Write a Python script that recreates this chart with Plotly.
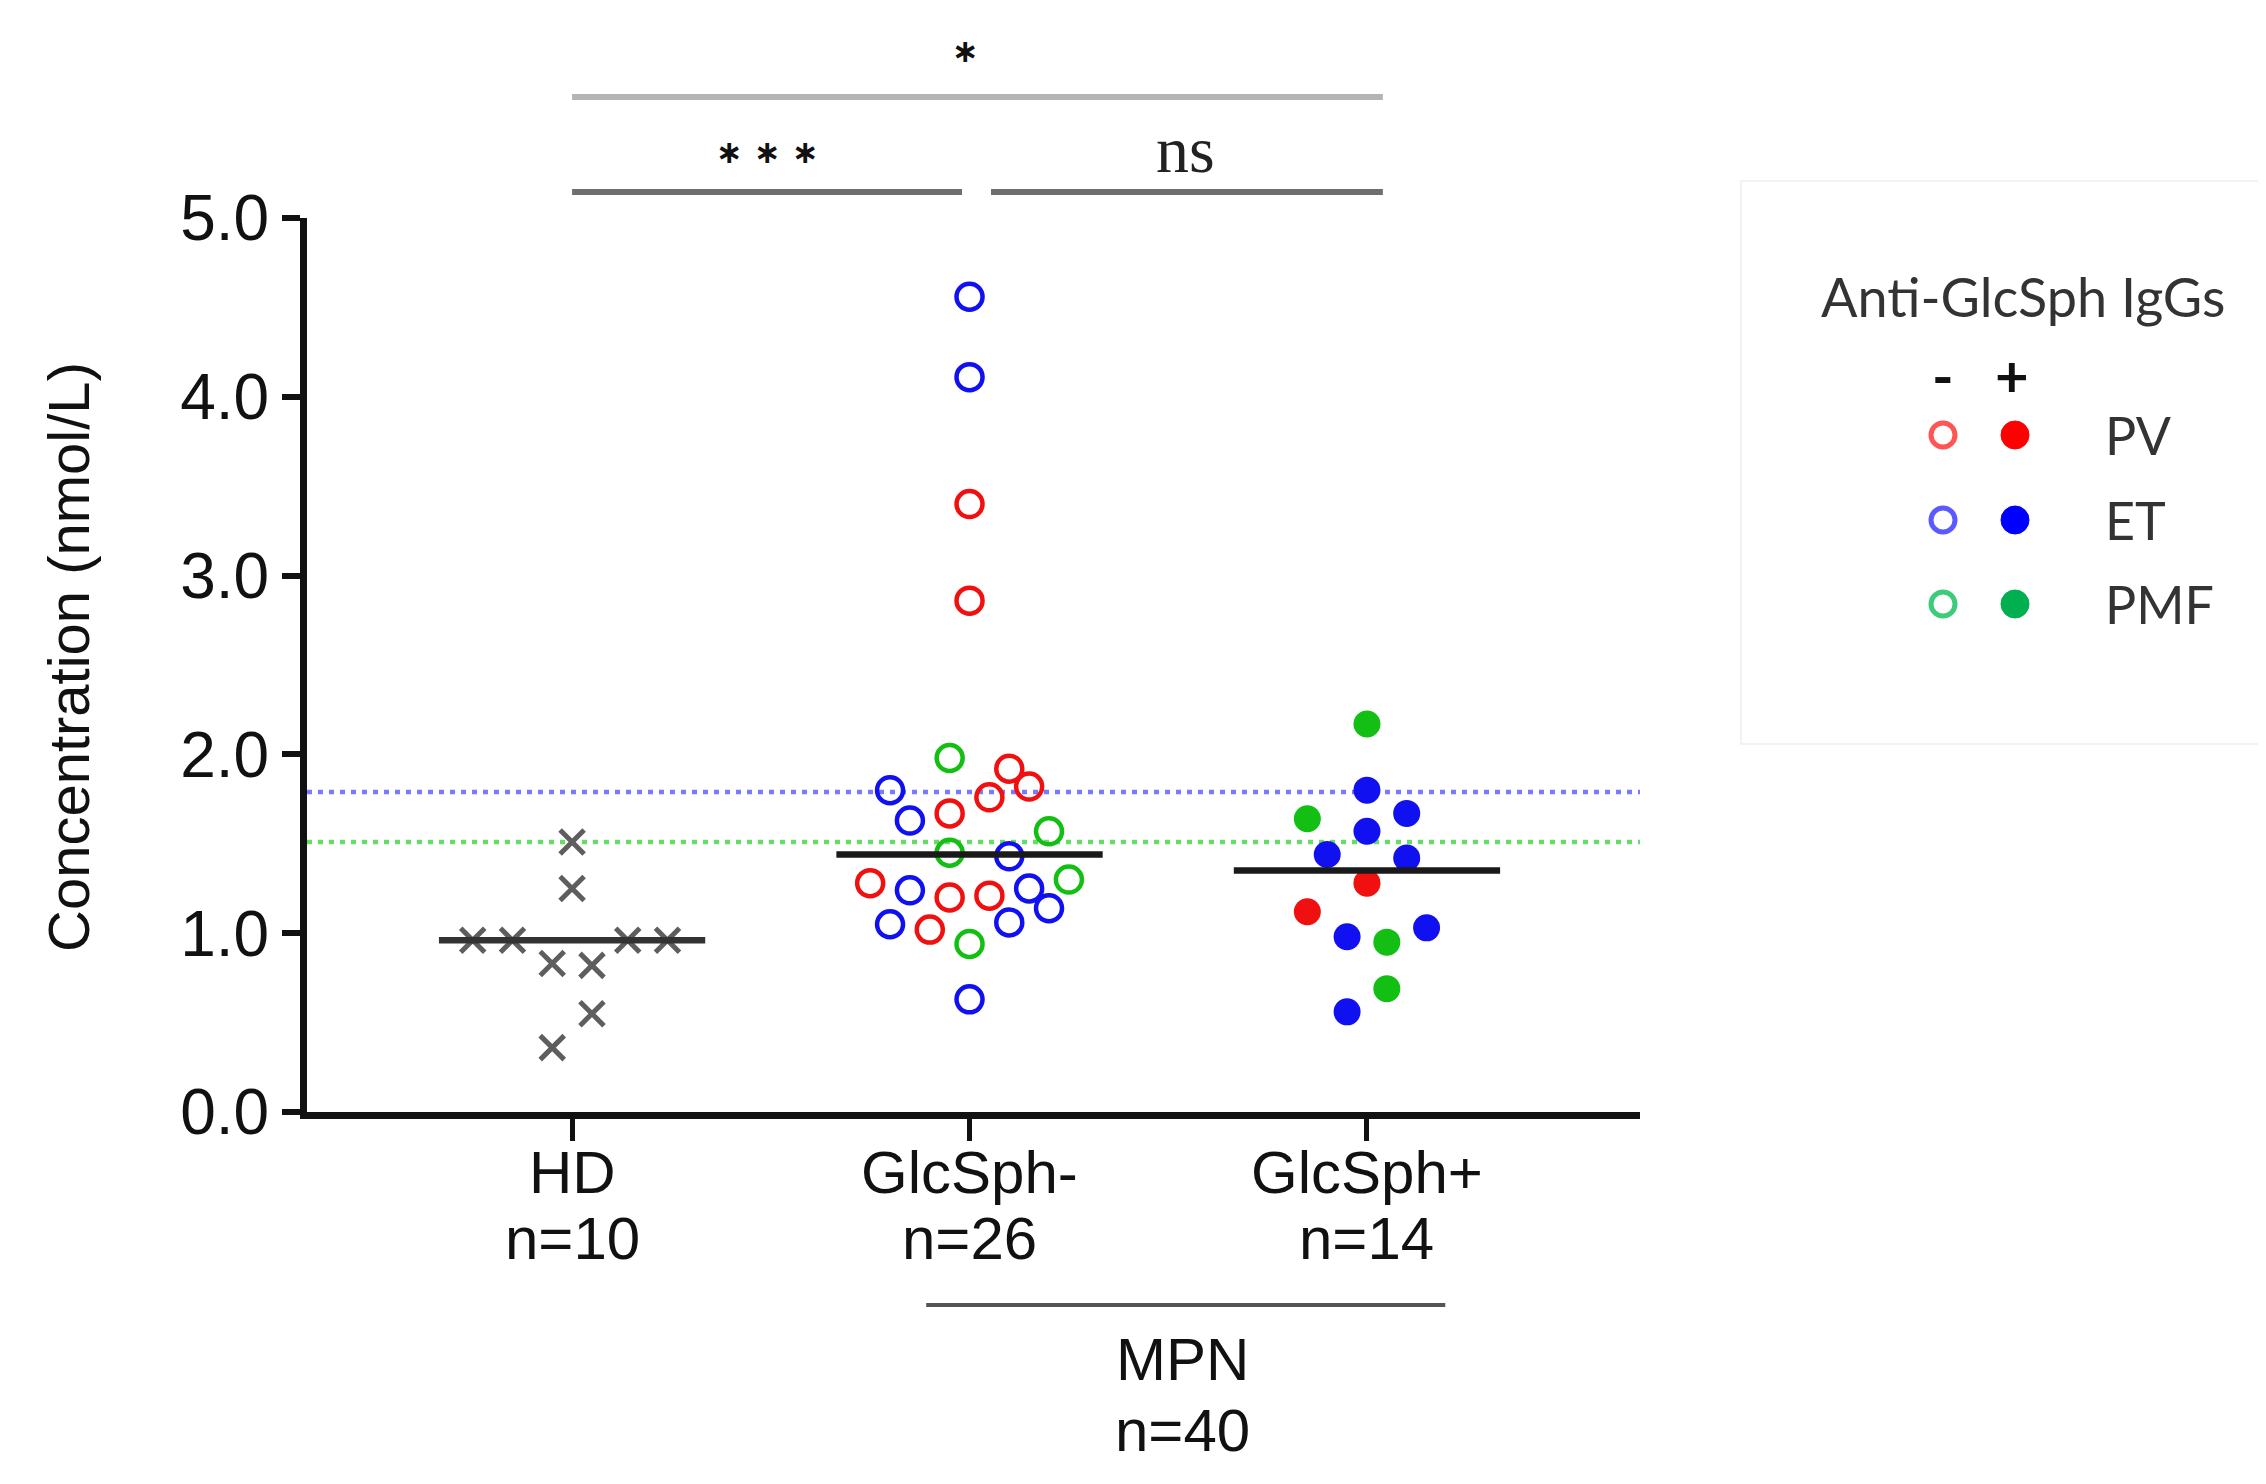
import numpy as np
import plotly.graph_objects as go

# kategorie na osi x
categories = ["HD", "GlcSph-", "GlcSph+"]
group_n = ["n=10", "n=26", "n=14"]

# HD (szare krzyżyki)
hd_vals = [1.51, 1.25, 0.96, 0.96, 0.96, 0.96, 0.83, 0.82, 0.55, 0.36]
hd_off = [0, 0, -0.25, -0.15, 0.14, 0.24, -0.05, 0.05, 0.05, -0.05]

# GlcSph- (puste kółka), wg koloru PV / ET / PMF
neg_pv_vals = [3.40, 2.86, 1.92, 1.82, 1.76, 1.67, 1.28, 1.20, 1.21, 1.02]
neg_pv_off = [0, 0, 0.1, 0.15, 0.05, -0.05, -0.25, -0.05, 0.05, -0.1]
neg_et_vals = [4.56, 4.11, 1.80, 1.63, 1.43, 1.24, 1.25, 1.14, 1.05, 1.06, 0.63]
neg_et_off = [0, 0, -0.2, -0.15, 0.1, -0.15, 0.15, 0.2, -0.2, 0.1, 0]
neg_pmf_vals = [1.98, 1.57, 1.45, 1.30, 0.94]
neg_pmf_off = [-0.05, 0.2, -0.05, 0.25, 0]

# GlcSph+ (pełne kółka)
pos_pv_vals = [1.28, 1.12]
pos_pv_off = [0, -0.15]
pos_et_vals = [1.80, 1.67, 1.57, 1.44, 1.42, 0.98, 1.03, 0.56]
pos_et_off = [0, 0.1, 0, -0.1, 0.1, -0.05, 0.15, -0.05]
pos_pmf_vals = [2.17, 1.64, 0.95, 0.69]
pos_pmf_off = [0, -0.15, 0.05, 0.05]

# progi (linie kropkowane)
threshold_vals = [1.79, 1.51]
threshold_colors = ["#7a7aff", "#66dd66"]

legend_rows = ["PV", "ET", "PMF"]

# geometria (piksele zrzutu ekranu, strona ma 8px marginesu)
OFF = 8
W, H = 2266, 1484
L, R, T, B = 307, 1640, 218, 1112
XMIN, XMAX = -0.667, 2.687


def px(x):
    return (x - L) / (R - L)


def py(y):
    return (B - y) / (B - T)


def xp(v):
    # jednostki kategorii -> paper
    return (v - XMIN) / (XMAX - XMIN)


RED, BLUE, GREEN = "#f01010", "#1010f0", "#12bf12"

fig = go.Figure()


def add_points(cat, vals, offs, color, symbol, name):
    x = [cat + o for o in offs]
    if symbol == "x":
        marker = dict(symbol="x-thin", size=24, color=color, line=dict(width=5, color=color))
    elif symbol == "open":
        marker = dict(symbol="circle-open", size=26, color=color, line=dict(width=4.5, color=color))
    else:
        marker = dict(symbol="circle", size=27, color=color)
    fig.add_trace(go.Scatter(x=x, y=vals, mode="markers", marker=marker,
                             name=name, showlegend=False, hoverinfo="y"))


add_points(0, hd_vals, hd_off, "#5e5e5e", "x", "HD")
add_points(1, neg_pv_vals, neg_pv_off, RED, "open", "PV -")
add_points(1, neg_et_vals, neg_et_off, BLUE, "open", "ET -")
add_points(1, neg_pmf_vals, neg_pmf_off, GREEN, "open", "PMF -")
add_points(2, pos_pv_vals, pos_pv_off, RED, "fill", "PV +")
add_points(2, pos_et_vals, pos_et_off, BLUE, "fill", "ET +")
add_points(2, pos_pmf_vals, pos_pmf_off, GREEN, "fill", "PMF +")

# mediany
groups = [hd_vals,
          neg_pv_vals + neg_et_vals + neg_pmf_vals,
          pos_pv_vals + pos_et_vals + pos_pmf_vals]
for i, g in enumerate(groups):
    m = float(np.median(g))
    fig.add_trace(go.Scatter(x=[i - 0.335, i + 0.335], y=[m, m], mode="lines",
                             line=dict(color="#1a1a1a" if i else "#333333", width=6.5),
                             showlegend=False, hoverinfo="skip"))

# linie progowe
for v, c in zip(threshold_vals, threshold_colors):
    fig.add_shape(type="line", xref="paper", yref="y", x0=0, x1=1, y0=v, y1=v,
                  line=dict(color=c, width=4.5, dash="5px,6px"), layer="below")

shapes = []
annots = []


def txt(x, y, text, size, family="Liberation Sans", color="#111", xref="paper", **kw):
    d = dict(x=x, y=y, xref=xref, yref="paper", text=text, showarrow=False,
             xanchor="center", yanchor="middle",
             font=dict(family=family, size=size, color=color))
    d.update(kw)
    annots.append(d)


# paski istotności
sig_bars = [(0, 2.04, 97, "#b4b4b4"), (0, 0.981, 192, "#6e6e6e"), (1.054, 2.04, 192, "#6e6e6e")]
for x0, x1, yy, c in sig_bars:
    shapes.append(dict(type="line", xref="paper", yref="paper", x0=xp(x0), x1=xp(x1),
                       y0=py(yy), y1=py(yy), line=dict(color=c, width=6)))
txt(0.989, py(51), "<b>∗</b>", 32, "DejaVu Sans", xref="x")
txt(0.491, py(152), "<b>∗ ∗ ∗</b>", 32, "DejaVu Sans", xref="x")
txt(1.544, py(150), "ns", 66, "Liberation Serif", "#222", xref="x")

# etykiety kategorii pod osią
for i, (c, n) in enumerate(zip(categories, group_n)):
    txt(i, py(1172), c, 60, xref="x")
    txt(i, py(1238), n, 60, xref="x")

# MPN
shapes.append(dict(type="line", xref="paper", yref="paper", x0=xp(0.891), x1=xp(2.197),
                   y0=py(1305), y1=py(1305), line=dict(color="#555555", width=4)))
txt(1.537, py(1359), "MPN", 60, xref="x")
txt(1.537, py(1430), "n=" + str(len(groups[1]) + len(groups[2])), 60, xref="x")

# tytuł osi y
txt(px(68), py(657), "Concentration (nmol/L)", 58, textangle=-90)

# legenda (ręcznie)
shapes.append(dict(type="rect", xref="paper", yref="paper", x0=px(1741), x1=px(2262),
                   y0=py(744), y1=py(181), line=dict(color="#f2f2f2", width=2)))
txt(px(2023), py(296), "Anti-GlcSph IgGs", 54, "Lato", "#333")
txt(px(1943), py(374), "<b>-</b>", 58, "Lato")
txt(px(2012), py(374), "<b>+</b>", 58, "Lato")
open_cols = ["#ff5555", "#5a5aff", "#3ccc7a"]
fill_cols = ["#ff0000", "#0000ff", "#00b050"]
for lab, yy, oc, fc in zip(legend_rows, [435, 520, 604], open_cols, fill_cols):
    shapes.append(dict(type="circle", xref="paper", yref="paper", xsizemode="pixel",
                       ysizemode="pixel", xanchor=px(1943), yanchor=py(yy),
                       x0=-12, x1=12, y0=-12, y1=12, line=dict(color=oc, width=5)))
    shapes.append(dict(type="circle", xref="paper", yref="paper", xsizemode="pixel",
                       ysizemode="pixel", xanchor=px(2015), yanchor=py(yy),
                       x0=-14, x1=14, y0=-14, y1=14, fillcolor=fc, line=dict(color=fc, width=1)))
    txt(px(2103), py(yy), lab, 52, "Lato", "#333", xanchor="left")

for s in shapes:
    fig.add_shape(**s)
for a in annots:
    fig.add_annotation(**a)

fig.update_layout(
    width=W, height=H,
    margin=dict(l=L - OFF, r=W - R + OFF, t=T - OFF, b=H - B + OFF),
    paper_bgcolor="white", plot_bgcolor="white",
    showlegend=False,
    xaxis=dict(range=[XMIN, XMAX], showgrid=False, zeroline=False, showline=True,
               linecolor="#111", linewidth=7, ticks="outside", tickvals=[0, 1, 2],
               ticklen=22, tickwidth=5, tickcolor="#111", showticklabels=False),
    yaxis=dict(range=[0, 5], showgrid=False, zeroline=False, showline=True,
               linecolor="#111", linewidth=7, ticks="outside", dtick=1, tick0=0,
               tickformat=".1f", ticklen=18, tickwidth=6, tickcolor="#111",
               tickfont=dict(family="Liberation Sans", size=64, color="#111")),
)

fig.write_html("out.html")
